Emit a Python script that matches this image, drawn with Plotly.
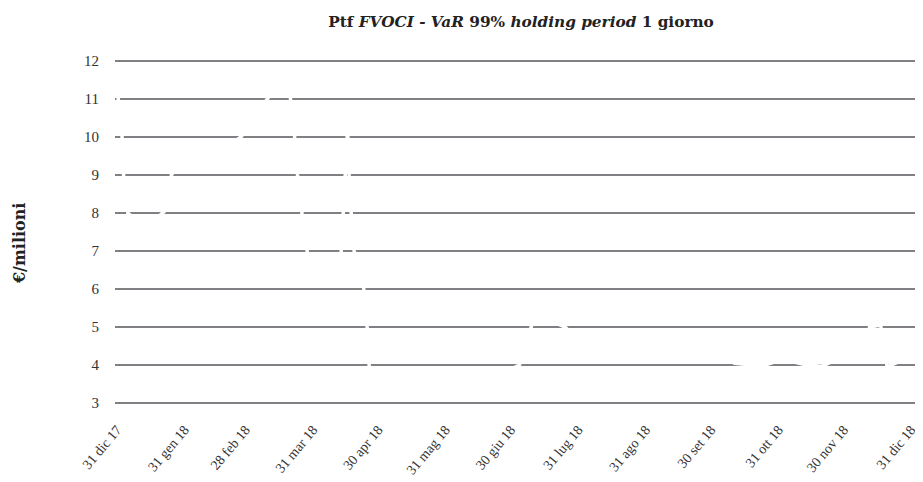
import plotly.graph_objects as go

# VaR series (white line in the reference), values in € millions
dates = ["2017-12-31", "2018-01-02", "2018-01-03", "2018-01-05", "2018-01-07", "2018-01-10",
         "2018-01-15", "2018-01-19", "2018-01-23", "2018-01-25", "2018-01-29", "2018-02-07",
         "2018-02-16", "2018-02-26", "2018-03-04", "2018-03-10", "2018-03-15", "2018-03-20",
         "2018-03-22", "2018-03-24", "2018-03-27", "2018-03-29", "2018-04-06", "2018-04-13",
         "2018-04-15", "2018-04-16", "2018-04-17", "2018-04-19", "2018-04-23", "2018-04-25",
         "2018-04-26", "2018-04-29", "2018-05-17", "2018-06-09", "2018-06-27", "2018-07-04",
         "2018-07-07", "2018-07-10", "2018-07-17", "2018-07-25", "2018-07-30", "2018-08-30",
         "2018-10-01", "2018-10-11", "2018-10-19", "2018-10-26", "2018-11-02", "2018-11-13",
         "2018-11-20", "2018-11-29", "2018-12-10", "2018-12-12", "2018-12-17", "2018-12-19",
         "2018-12-20", "2018-12-26", "2018-12-30"]
var_values = [11.2, 10.5, 9.0, 8.0, 7.9, 7.8,
              7.6, 7.9, 8.1, 9.0, 9.3, 9.4,
              9.6, 10.0, 10.5, 11.0, 11.4, 11.3,
              10.5, 9.0, 7.5, 6.8, 6.6, 6.9,
              9.0, 10.2, 8.5, 7.0, 6.3, 5.0,
              3.9, 3.7, 3.6, 3.7, 3.8, 4.0,
              4.6, 5.1, 5.2, 5.0, 4.7, 4.5,
              4.3, 4.05, 4.0, 4.02, 4.15, 4.0,
              3.97, 4.2, 4.6, 5.0, 5.05, 4.5,
              3.95, 4.1, 4.1]

tick_dates = ["2017-12-31", "2018-01-31", "2018-02-28", "2018-03-31", "2018-04-30", "2018-05-31",
              "2018-06-30", "2018-07-31", "2018-08-31", "2018-09-30", "2018-10-31", "2018-11-30",
              "2018-12-31"]
tick_labels = ["31 dic 17", "31 gen 18", "28 feb 18", "31 mar 18", "30 apr 18", "31 mag 18",
               "30 giu 18", "31 lug 18", "31 ago 18", "30 set 18", "31 ott 18", "30 nov 18",
               "31 dic 18"]
y_ticks = [3, 4, 5, 6, 7, 8, 9, 10, 11, 12]

FONT = "Liberation Serif"
BOLD_FONT = "DejaVu Serif"

fig = go.Figure()
fig.add_trace(go.Scatter(x=dates, y=var_values, mode="lines",
                         line=dict(color="white", width=3.5), hoverinfo="skip",
                         showlegend=False))

fig.update_layout(
    width=923, height=482,
    margin=dict(l=107, r=0, t=51, b=85),
    paper_bgcolor="white", plot_bgcolor="white",
    font=dict(family=FONT, color="#333333"),
    title=dict(text="<b>Ptf <i>FVOCI - VaR</i> 99% <i>holding period</i> 1 giorno</b>",
               x=(513 - 107) / 816, xref="paper", xanchor="center", y=1 - 14 / 482,
               yref="container", yanchor="middle",
               font=dict(size=15.3, family=BOLD_FONT, color="#222222")),
    xaxis=dict(type="date", range=["2017-12-30 02:00", "2019-01-09 05:00"],
               tickmode="array", tickvals=tick_dates, ticktext=tick_labels,
               tickangle=-50, tickfont=dict(size=14, family=FONT, color="#333333"),
               showgrid=False, zeroline=False, showline=False, ticks="outside",
               ticklen=10, tickcolor="white", automargin=False),
    yaxis=dict(range=[2.95, 12.05], tickmode="array", tickvals=y_ticks,
               tickfont=dict(size=15, family=FONT, color="#333333"),
               showgrid=True, gridcolor="#808084", gridwidth=1.6,
               zeroline=False, showline=False, ticks="outside", ticklen=12,
               tickcolor="white", automargin=False),
    annotations=[dict(text="<b>€/milioni</b>", xref="paper", yref="paper",
                      x=(11 - 107) / 816, xanchor="center", y=0.468, yanchor="middle",
                      showarrow=False, textangle=-90,
                      font=dict(size=16, family=BOLD_FONT, color="#222222"))],
)

fig.write_html("out.html")
